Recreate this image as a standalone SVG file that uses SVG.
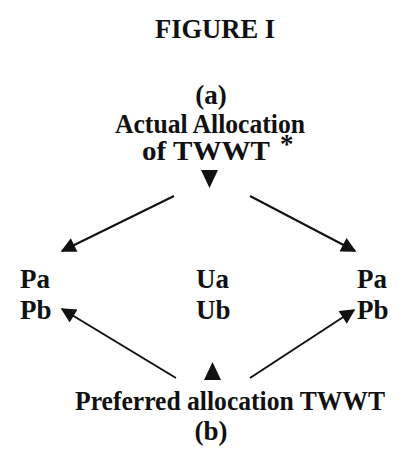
<svg xmlns="http://www.w3.org/2000/svg" width="415" height="466" viewBox="0 0 415 466">
<style>
text{font-family:"Liberation Serif","Times New Roman",serif;font-weight:bold;font-size:27px;fill:#111}
.c{text-anchor:middle}
.ln{stroke:#111;stroke-width:2;fill:none}
.tri{fill:#111}
</style>
<defs>
<marker id="ah" viewBox="0 0 10 10" refX="9" refY="5" markerUnits="userSpaceOnUse" markerWidth="19" markerHeight="15" orient="auto">
<path d="M0,0 L10,5 L0,10 z" fill="#111"/>
</marker>
</defs>
<rect width="415" height="466" fill="#fff"/>
<g id="title"><text x="155" y="38" font-size="30" textLength="120" lengthAdjust="spacingAndGlyphs">FIGURE I</text></g>
<g id="node-a">
<text class="c" x="211" y="104">(a)</text>
<text x="115" y="133" textLength="190" lengthAdjust="spacingAndGlyphs">Actual Allocation</text>
<text x="142" y="160" textLength="128" lengthAdjust="spacingAndGlyphs">of TWWT</text>
<text x="280" y="153" font-size="10">*</text>
<polygon class="tri" points="201,170 218,170 209.5,188"/>
</g>
<g id="node-p-left">
<text x="20" y="288" font-size="29">Pa</text>
<text x="20" y="319" font-size="29">Pb</text>
</g>
<g id="node-u">
<text x="196" y="288" font-size="29">Ua</text>
<text x="196" y="319" font-size="29">Ub</text>
</g>
<g id="node-p-right">
<text x="357" y="288" font-size="29">Pa</text>
<text x="357" y="319" font-size="29">Pb</text>
</g>
<g id="node-b">
<polygon class="tri" points="204,380 221,380 212.5,362"/>
<text x="75" y="410" textLength="310" lengthAdjust="spacingAndGlyphs">Preferred allocation TWWT</text>
<text class="c" x="211" y="440">(b)</text>
</g>
<g id="connectors">
<line class="ln" x1="174" y1="196" x2="62" y2="251" marker-end="url(#ah)"/>
<line class="ln" x1="250" y1="196" x2="355" y2="251" marker-end="url(#ah)"/>
<line class="ln" x1="176" y1="378" x2="62" y2="309" marker-end="url(#ah)"/>
<line class="ln" x1="250" y1="378" x2="354" y2="310" marker-end="url(#ah)"/>
</g>
</svg>
